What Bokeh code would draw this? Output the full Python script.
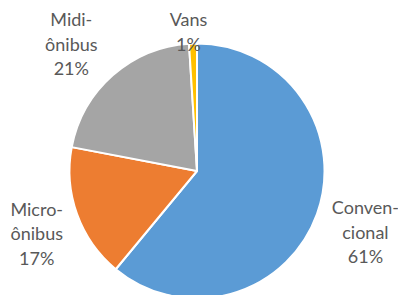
import math
from bokeh.plotting import figure
from bokeh.models import ColumnDataSource
from bokeh.core.properties import value
from bokeh.embed import file_html
from bokeh.resources import INLINE

# Data
categories = ["Convencional", "Micro-ônibus", "Midi-ônibus", "Vans"]
label_texts = ["Conven-\ncional\n61%", "Micro-\nônibus\n17%", "Midi-\nônibus\n21%", "Vans\n1%"]
shares = [61, 17, 21, 1]
colors = ["#5B9BD5", "#ED7D31", "#A5A5A5", "#FFC000"]

# Layout (pixel-like data units)
W, H = 398, 295
cx, cy, r = 196.5, 124.5, 127.5
label_r = [179, 172, 179, 140]
label_shift = [0, 1.5, 3.2, 1.7]  # angular nudges (degrees)

total = float(sum(shares))
starts, ends, lx, ly = [], [], [], []
cum = 0.0
for i, v in enumerate(shares):
    a0 = 90 - cum / total * 360
    a1 = 90 - (cum + v) / total * 360
    starts.append(math.radians(a1))
    ends.append(math.radians(a0))
    mid = math.radians((a0 + a1) / 2 + label_shift[i])
    lx.append(cx + label_r[i] * math.cos(mid))
    ly.append(cy + label_r[i] * math.sin(mid))
    cum += v

src = ColumnDataSource(dict(cat=categories, start=starts, end=ends, color=colors,
                            x=[cx] * 4, y=[cy] * 4))
lsrc = ColumnDataSource(dict(x=lx, y=ly, text=label_texts))

p = figure(width=W, height=H, x_range=(0, W), y_range=(0, H),
           output_backend="svg", toolbar_location=None, min_border=0)
p.axis.visible = False
p.grid.visible = False
p.outline_line_color = None
p.background_fill_color = "white"

p.wedge(x="x", y="y", radius=r, start_angle="start", end_angle="end",
        fill_color="color", line_color="white", line_width=2, source=src)

p.text(x="x", y="y", text="text", source=lsrc, text_align="center",
       text_baseline="middle", text_font=value("Lato"), text_font_size="18px",
       text_color="#595959", text_line_height=1.13)

open("out.html", "w").write(file_html(p, INLINE))
